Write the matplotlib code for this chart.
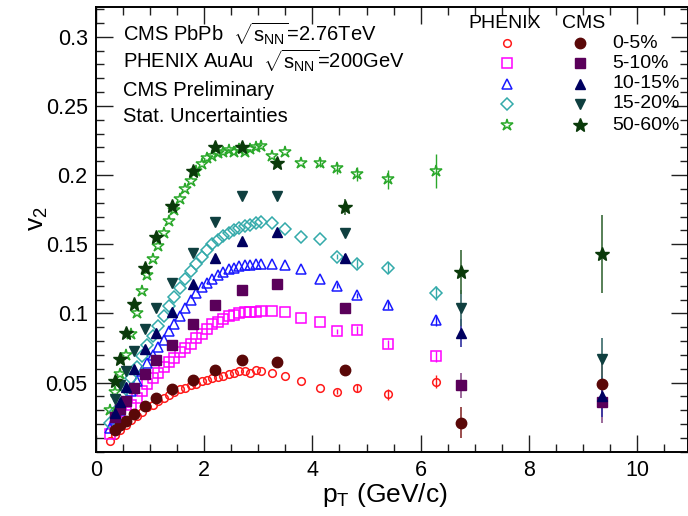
import matplotlib
matplotlib.use("Agg")
import matplotlib.pyplot as plt
from matplotlib.ticker import MultipleLocator

plt.rcParams['font.family'] = ['Liberation Sans', 'DejaVu Sans']
plt.rcParams['mathtext.fontset'] = 'custom'
plt.rcParams['mathtext.rm'] = 'Liberation Sans'
plt.rcParams['mathtext.it'] = 'Liberation Sans'
plt.rcParams['mathtext.bf'] = 'Liberation Sans:bold'

# ---------------- data ----------------
pt_phenix = [0.25, 0.35, 0.45, 0.55, 0.65, 0.75, 0.85, 0.95, 1.05, 1.15,
             1.25, 1.35, 1.45, 1.55, 1.65, 1.75, 1.85, 1.95, 2.05, 2.15,
             2.25, 2.35, 2.45, 2.55, 2.65, 2.75, 2.85, 2.95, 3.05,
             3.25, 3.49, 3.78, 4.14, 4.46, 4.83, 5.40, 6.28]

phx_0_5 = [0.008, 0.012, 0.016, 0.019, 0.023, 0.026, 0.029, 0.032, 0.034, 0.037,
           0.039, 0.041, 0.043, 0.045, 0.046, 0.048, 0.049, 0.051, 0.052, 0.053,
           0.054, 0.055, 0.056, 0.057, 0.058, 0.058, 0.057, 0.059, 0.058,
           0.057, 0.055, 0.051, 0.046, 0.0435, 0.046, 0.0416, 0.0507]
phx_5_10 = [0.013, 0.018, 0.024, 0.029, 0.034, 0.039, 0.044, 0.049, 0.053, 0.057,
            0.061, 0.065, 0.068, 0.072, 0.075, 0.078, 0.082, 0.085, 0.089, 0.092,
            0.094, 0.096, 0.098, 0.099, 0.100, 0.101, 0.101, 0.101, 0.102,
            0.102, 0.101, 0.097, 0.094, 0.087, 0.088, 0.078, 0.069]
phx_10_15 = [0.017, 0.024, 0.030, 0.037, 0.044, 0.051, 0.058, 0.064, 0.070, 0.076,
             0.081, 0.087, 0.092, 0.098, 0.104, 0.110, 0.115, 0.119, 0.122, 0.125,
             0.128, 0.130, 0.132, 0.133, 0.134, 0.135, 0.135, 0.136, 0.136,
             0.136, 0.135, 0.132, 0.125, 0.120, 0.113, 0.106, 0.095]
phx_15_20 = [0.021, 0.029, 0.037, 0.045, 0.053, 0.061, 0.069, 0.077, 0.084, 0.091,
             0.098, 0.105, 0.112, 0.118, 0.125, 0.131, 0.136, 0.141, 0.146, 0.150,
             0.153, 0.156, 0.158, 0.160, 0.162, 0.163, 0.164, 0.165, 0.166,
             0.165, 0.161, 0.155, 0.154, 0.141, 0.136, 0.133, 0.1145]
phx_50_60 = [0.030, 0.043, 0.056, 0.070, 0.085, 0.100, 0.116, 0.128, 0.139, 0.149,
             0.158, 0.167, 0.175, 0.183, 0.190, 0.196, 0.203, 0.208, 0.212, 0.214,
             0.216, 0.217, 0.218, 0.217, 0.219, 0.217, 0.219, 0.220, 0.221,
             0.214, 0.2167, 0.209, 0.209, 0.205, 0.2005, 0.197, 0.203]

# errors on the sparse high-pT PHENIX points (3.25 ... 6.28)
phx_err_tail_0_5 = [0, 0, 0, 0, 0.002, 0.003, 0.004, 0.005]
phx_err_tail_5_10 = [0, 0, 0, 0, 0.002, 0.003, 0.003, 0.004]
phx_err_tail_10_15 = [0, 0, 0, 0, 0.002, 0.002, 0.003, 0.004]
phx_err_tail_15_20 = [0, 0, 0, 0, 0.002, 0.003, 0.004, 0.005]
phx_err_tail_50_60 = [0, 0, 0, 0.003, 0.004, 0.005, 0.007, 0.012]

pt_cms = [0.35, 0.45, 0.55, 0.70, 0.90, 1.10, 1.40, 1.80, 2.20, 2.70, 3.35, 4.60, 6.75, 9.36]

cms_0_5 = [0.016, 0.019, 0.022, 0.027, 0.033, 0.039, 0.045, 0.052, 0.059, 0.066, 0.065, 0.059, 0.021, 0.049]
cms_5_10 = [0.025, 0.031, 0.037, 0.046, 0.056, 0.066, 0.077, 0.092, 0.106, 0.117, 0.121, 0.104, 0.048, 0.036]
cms_10_15 = [0.028, 0.036, 0.047, 0.060, 0.074, 0.086, 0.101, 0.121, 0.140, 0.152, 0.159, 0.140, 0.086, 0.040]
cms_15_20 = [0.038, 0.048, 0.058, 0.073, 0.089, 0.104, 0.122, 0.144, 0.166, 0.185, 0.185, 0.158, 0.104, 0.067]
cms_50_60 = [0.051, 0.067, 0.086, 0.107, 0.133, 0.155, 0.178, 0.203, 0.220, 0.220, 0.209, 0.177, 0.130, 0.143]

cms_err_0_5 = [0, 0, 0, 0, 0, 0, 0, 0, 0, 0, 0.001, 0.003, 0.011, 0.015]
cms_err_5_10 = [0, 0, 0, 0, 0, 0, 0, 0, 0, 0, 0.001, 0.003, 0.009, 0.015]
cms_err_10_15 = [0, 0, 0, 0, 0, 0, 0, 0, 0, 0, 0.001, 0.003, 0.010, 0.015]
cms_err_15_20 = [0, 0, 0, 0, 0, 0, 0, 0, 0, 0, 0.001, 0.003, 0.013, 0.015]
cms_err_50_60 = [0, 0, 0, 0, 0, 0, 0, 0, 0, 0, 0.002, 0.006, 0.016, 0.028]

centralities = ['0-5%', '5-10%', '10-15%', '15-20%', '50-60%']
phx_series = [phx_0_5, phx_5_10, phx_10_15, phx_15_20, phx_50_60]
phx_err_tails = [phx_err_tail_0_5, phx_err_tail_5_10, phx_err_tail_10_15,
                 phx_err_tail_15_20, phx_err_tail_50_60]
cms_series = [cms_0_5, cms_5_10, cms_10_15, cms_15_20, cms_50_60]
cms_errs = [cms_err_0_5, cms_err_5_10, cms_err_10_15, cms_err_15_20, cms_err_50_60]

# ---------------- styles ----------------
phx_colors = ['#ff1a1a', '#ff00ff', '#1a1aff', '#33aaaa', '#2aa82a']
phx_markers = ['o', 's', '^', 'D', '*']
phx_ms = [5.5, 6.5, 6.5, 6.0, 9.0]
cms_colors = ['#5a0808', '#5a005a', '#000060', '#0f3f3f', '#0a3a0a']
cms_ecolors = ['#8a3030', '#8a508a', '#3030a0', '#3a6a6a', '#3a6a3a']
cms_markers = ['o', 's', '^', 'v', '*']
cms_ms = [7.5, 7.0, 7.0, 7.5, 10.5]

# ---------------- figure ----------------
fig = plt.figure(figsize=(6.88, 5.16), dpi=100)
ax = fig.add_axes([0.1395, 0.1246, 0.8605, 0.8618])

n_dense = len(pt_phenix) - 8
for i in range(5):
    err = [0] * n_dense + phx_err_tails[i]
    ax.errorbar(pt_phenix, phx_series[i], yerr=err, fmt=phx_markers[i],
                mfc='none', mec=phx_colors[i], ecolor=phx_colors[i],
                ms=phx_ms[i], mew=1.1, elinewidth=1.0, capsize=0, zorder=3)
for i in range(5):
    ax.errorbar(pt_cms, cms_series[i], yerr=cms_errs[i], fmt=cms_markers[i],
                mfc=cms_colors[i], mec=cms_colors[i], ecolor=cms_ecolors[i],
                ms=cms_ms[i], elinewidth=1.2, capsize=0, zorder=4)

ax.set_xlim(0, 10.94)
ax.set_ylim(0, 0.3215)
ax.xaxis.set_major_locator(MultipleLocator(2))
ax.xaxis.set_minor_locator(MultipleLocator(0.5))
ax.yaxis.set_minor_locator(MultipleLocator(0.01))
ax.set_yticks([0.05, 0.1, 0.15, 0.2, 0.25, 0.3])
ax.set_yticklabels(['0.05', '0.1', '0.15', '0.2', '0.25', '0.3'])
ax.tick_params(which='both', direction='in', top=True, right=True, labelsize=15.5,
               width=1.0, color='#202020')
ax.tick_params(which='major', length=12)
ax.tick_params(which='minor', length=6)
ax.tick_params(axis='x', pad=6)
ax.tick_params(axis='y', pad=6)
for s in ax.spines.values():
    s.set_linewidth(1.4)

ax.set_xlabel(r'p$_{\mathrm{T}}$ (GeV/c)', fontsize=19)
ax.xaxis.label.set_va('center')
ax.xaxis.set_label_coords(0.488, -0.097)
ax.set_ylabel(r'v$_{2}$', fontsize=19)
ax.yaxis.label.set_va('center')
ax.yaxis.set_label_coords(-0.098, 0.525)

# ---------------- annotations ----------------
txt_kw = dict(transform=ax.transAxes, fontsize=14.5, ha='left', va='center')
ax.text(0.0456, 0.941, r'CMS PbPb  $\sqrt{s_{\mathrm{NN}}}$=2.76TeV', **txt_kw)
ax.text(0.0456, 0.880, r'PHENIX AuAu  $\sqrt{s_{\mathrm{NN}}}$=200GeV', **txt_kw)
ax.text(0.0456, 0.813, 'CMS Preliminary', **txt_kw)
ax.text(0.0456, 0.753, 'Stat. Uncertainties', **txt_kw)

# ---------------- legend (manual) ----------------
ax.text(0.691, 0.964, 'PHENIX', transform=ax.transAxes, fontsize=14, ha='center', va='center')
ax.text(0.823, 0.964, 'CMS', transform=ax.transAxes, fontsize=14, ha='center', va='center')
row_y = [0.919, 0.874, 0.827, 0.782, 0.734]
for i in range(5):
    ax.plot([0.694], [row_y[i]], marker=phx_markers[i], mfc='none', mec=phx_colors[i],
            ms=phx_ms[i], mew=1.1, transform=ax.transAxes, clip_on=False, ls='none')
    ax.plot([0.818], [row_y[i]], marker=cms_markers[i], mfc=cms_colors[i], mec=cms_colors[i],
            ms=cms_ms[i], transform=ax.transAxes, clip_on=False, ls='none')
    ax.text(0.872, row_y[i], centralities[i], transform=ax.transAxes, fontsize=14,
            ha='left', va='center')

fig.savefig('out.png', dpi=100)
